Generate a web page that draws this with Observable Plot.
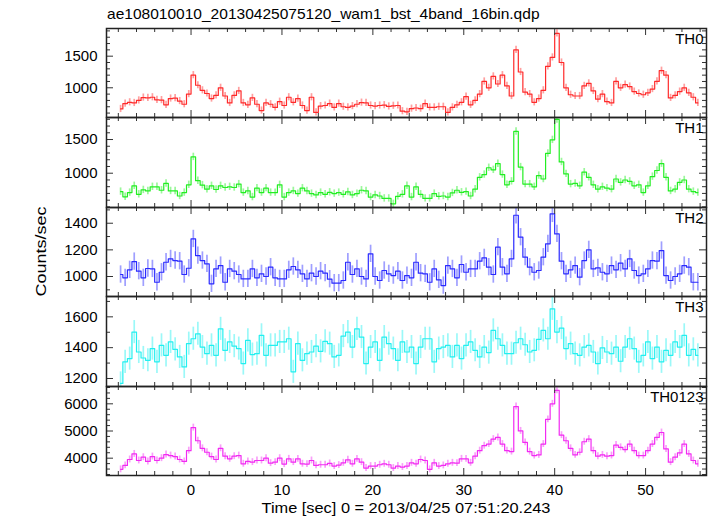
<!DOCTYPE html>
<html>
<head>
<meta charset="utf-8">
<script src="https://cdn.jsdelivr.net/npm/d3@7"></script>
<script src="https://cdn.jsdelivr.net/npm/@observablehq/plot@0.6"></script>
<style>
html, body { margin: 0; padding: 0; background: #fff; }
#chart { position: relative; width: 717px; height: 516px; font-family: "Liberation Sans", Arial, Helvetica, sans-serif; color: #000; overflow: hidden; background: #fff; }
.abs { position: absolute; white-space: nowrap; font-size: 15px; line-height: 15px; }
</style>
</head>
<body>
<div id="chart">
  <div class="abs" style="left:107px;top:6px;transform:scaleX(1.035);transform-origin:left center;">ae108010010_20130425075120_wam1_bst_4band_16bin.qdp</div>
  <div class="abs" style="left:-60px;top:243.5px;width:200px;text-align:center;transform:rotate(-90deg) scaleX(1.2);transform-origin:center;">Counts/sec</div>
  <div class="abs" style="left:106px;top:500px;width:600px;text-align:center;transform:scaleX(1.09);transform-origin:center;">Time [sec] 0 = 2013/04/25 07:51:20.243</div>
</div>
<script>
// ---- data: 0.5 s bins, first bin centre at -7.75 s ----
const binStart = -7.75;
const binWidth = 0.5;

const names = ["TH0", "TH1", "TH2", "TH3", "TH0123"];

const th0 = [665,750,770,760,800,845,840,850,810,805,
730,830,835,790,740,900,1200,1040,960,910,
830,880,1000,870,760,880,950,760,730,840,
740,640,760,740,690,780,720,850,770,830,
720,640,850,610,710,720,750,690,750,700,
690,710,740,765,760,720,710,720,725,705,
715,720,630,620,670,680,670,750,690,690,
700,700,610,690,730,770,860,730,800,900,
1100,1000,1180,1060,1200,1030,870,1600,1250,930,
900,770,830,960,1340,1480,1860,1400,1000,890,
870,870,1030,1070,950,820,900,780,760,1100,
1000,1050,1020,940,910,890,920,980,1100,1270,
1200,840,880,940,1000,920,850,760];

const th1 = [727,650,712,813,687,752,737,798,798,747,
848,737,737,662,712,828,1242,889,823,763,
813,758,813,788,798,788,838,712,737,646,
778,712,778,712,712,828,646,712,737,697,
778,737,697,677,712,687,717,697,712,687,
722,677,697,747,737,646,677,662,626,626,
545,657,687,813,646,798,687,626,626,697,
657,662,646,707,747,717,727,662,763,939,
980,1081,1050,1141,980,828,879,1620,1091,838,
838,798,965,914,1293,1495,1798,1167,990,838,
848,813,1015,939,828,763,798,778,763,914,
864,899,879,813,828,712,813,949,1040,1141,
939,737,763,864,899,763,727,712];

const th2 = [1015,990,1050,1112,1040,990,1060,1057,957,1032,
1107,1132,1120,1115,1015,1062,1282,1157,1120,1095,
945,1057,1082,957,1057,1040,1015,982,982,1057,
990,1020,1000,1070,990,982,982,1050,1075,1050,
1020,982,1025,1000,1040,1025,980,950,950,970,
1107,1015,1057,1000,982,1170,1000,970,1045,1020,
1007,1040,970,1007,990,1107,1025,1020,957,1057,
975,932,1082,1057,990,1090,1032,1057,1057,1115,
1140,1070,1015,1220,1070,1020,1132,1460,1295,1145,
1070,1032,1045,1145,1245,1470,1320,1115,1020,1050,
1082,995,1120,1200,1057,1065,1032,1020,1082,1050,
1100,1057,1132,1045,1007,1020,1057,1120,1115,1195,
1007,970,1000,1020,1082,1070,957,957];

const th3 = [1168,1308,1329,1501,1372,1333,1318,1394,1308,1415,
1350,1437,1389,1340,1275,1426,1458,1490,1404,1361,
1415,1350,1522,1383,1437,1410,1394,1297,1447,1355,
1361,1480,1350,1415,1415,1437,1437,1458,1243,1426,
1318,1361,1372,1410,1376,1441,1426,1340,1350,1475,
1501,1404,1522,1469,1297,1404,1437,1318,1469,1426,
1394,1318,1437,1372,1404,1297,1404,1458,1458,1308,
1394,1404,1415,1340,1415,1329,1415,1437,1383,1340,
1404,1368,1512,1458,1415,1361,1361,1432,1458,1419,
1372,1383,1454,1512,1458,1652,1501,1527,1394,1426,
1361,1350,1404,1415,1372,1297,1398,1372,1361,1404,
1312,1404,1458,1394,1308,1350,1437,1329,1404,1308,
1383,1350,1437,1404,1480,1350,1389,1350];

const th0123 = [3589,3734,3952,4157,3915,4036,3879,4060,3915,4000,
4133,4097,4060,3952,3879,4278,5125,4641,4363,4218,
4060,3952,4363,4073,3976,4073,4097,3794,3879,3855,
3915,3915,4000,3818,3855,4000,3782,3976,3855,3976,
3794,3782,3915,3734,3758,3758,3806,3710,3746,3830,
3940,3794,3976,3855,3637,3710,3710,3758,3794,3758,
3637,3710,3673,3710,3830,3794,3952,3915,3589,3830,
3710,3734,3794,3830,3818,3976,3976,3830,4073,4278,
4460,4520,4702,4762,4520,4278,4242,5900,5004,4581,
4242,4097,4121,4520,5428,6000,6493,4847,4641,4363,
4121,4218,4605,4702,4278,4073,4121,4073,4097,4484,
4399,4315,4520,4278,4097,4097,4278,4520,4762,4944,
4339,3855,4036,4194,4520,4157,3915,3794];

// typical 1-sigma error per panel (counts/sec)
const errs = [57, 55, 65, 75, 127];

// ---- axes / tick labels ----
const xDomain = [-9.3, 56.7];
const xMajor = [0, 10, 20, 30, 40, 50];
const xMinor = [-8,-6,-4,-2,2,4,6,8,12,14,16,18,22,24,26,28,32,34,36,38,42,44,46,48,52,54,56];

const yDomains = [[530, 1938], [491, 1827], [850, 1518], [1148, 1732], [3363, 6637]];
const yMajor = [[1000, 1500], [1000, 1500], [1000, 1200, 1400], [1200, 1400, 1600], [4000, 5000, 6000]];
const yMinor = [
  [600,700,800,900,1100,1200,1300,1400,1600,1700,1800,1900],
  [500,600,700,800,900,1100,1200,1300,1400,1600,1700,1800],
  [900,1100,1300,1500],
  [1300,1500,1700],
  [3400,3600,3800,4200,4400,4600,4800,5200,5400,5600,5800,6200,6400,6600]
];

const colors = ["#ff2a2a", "#22ee22", "#2a2aff", "#22f0f0", "#f22af2"];

// ---- layout ----
const W = 717, ML = 106, MR = 11;
const tops = [28, 117, 207, 296, 386];
const heights = [89, 90, 89, 90, 89];
const series = [th0, th1, th2, th3, th0123];

const chart = document.getElementById("chart");
const fmt = d3.format("d");

series.forEach((vals, i) => {
  const data = vals.map((v, k) => ({t: binStart + k * binWidth, v}));
  const pw = W - ML - MR;
  const ph = heights[i];
  const last = i === series.length - 1;
  const s = {stroke: "#333", strokeWidth: 1};
  const marks = [
    Plot.ruleX(data, {x: "t", y1: d => d.v - errs[i], y2: d => d.v + errs[i], stroke: colors[i], strokeOpacity: 0.45, strokeWidth: 1.7, clip: true}),
    Plot.line(data, {x: "t", y: "v", curve: "step", stroke: colors[i], strokeWidth: 1.2, clip: true}),
    Plot.tickY(yMinor[i], {y: d => d, insetRight: pw - 4, ...s}),
    Plot.tickY(yMinor[i], {y: d => d, insetLeft: pw - 4, ...s}),
    Plot.tickY(yMajor[i], {y: d => d, insetRight: pw - 7, ...s}),
    Plot.tickY(yMajor[i], {y: d => d, insetLeft: pw - 7, ...s}),
    Plot.tickX(xMinor, {x: d => d, insetBottom: ph - 4, ...s}),
    Plot.tickX(xMinor, {x: d => d, insetTop: ph - 4, ...s}),
    Plot.tickX(xMajor, {x: d => d, insetBottom: ph - 7, ...s}),
    Plot.tickX(xMajor, {x: d => d, insetTop: ph - 7, ...s}),
    Plot.frame({stroke: "#222", strokeWidth: 1.5}),
    Plot.axisY(yMajor[i], {anchor: "left", tickSize: 0, tickPadding: 9, tickFormat: fmt, label: null, fontSize: 15}),
    Plot.text([names[i]], {text: d => d, frameAnchor: "top-right", textAnchor: "end", lineAnchor: "top", dx: -3, dy: 5, fontSize: 15, fill: "#000"})
  ];
  if (last) {
    marks.push(Plot.axisX(xMajor, {anchor: "bottom", tickSize: 0, tickPadding: 9, tickFormat: fmt, label: null, fontSize: 15}));
  }
  const svg = Plot.plot({
    width: W,
    height: ph + (last ? 30 : 0),
    marginLeft: ML,
    marginRight: MR,
    marginTop: 0,
    marginBottom: last ? 30 : 0,
    x: {domain: xDomain, axis: null},
    y: {domain: yDomains[i], axis: null},
    style: {overflow: "visible", fontFamily: "'Liberation Sans', Arial, Helvetica, sans-serif", fontSize: "15px", background: "none", color: "#000"},
    marks
  });
  svg.style.position = "absolute";
  svg.style.left = "0px";
  svg.style.top = tops[i] + "px";
  chart.appendChild(svg);
});
</script>
</body>
</html>
